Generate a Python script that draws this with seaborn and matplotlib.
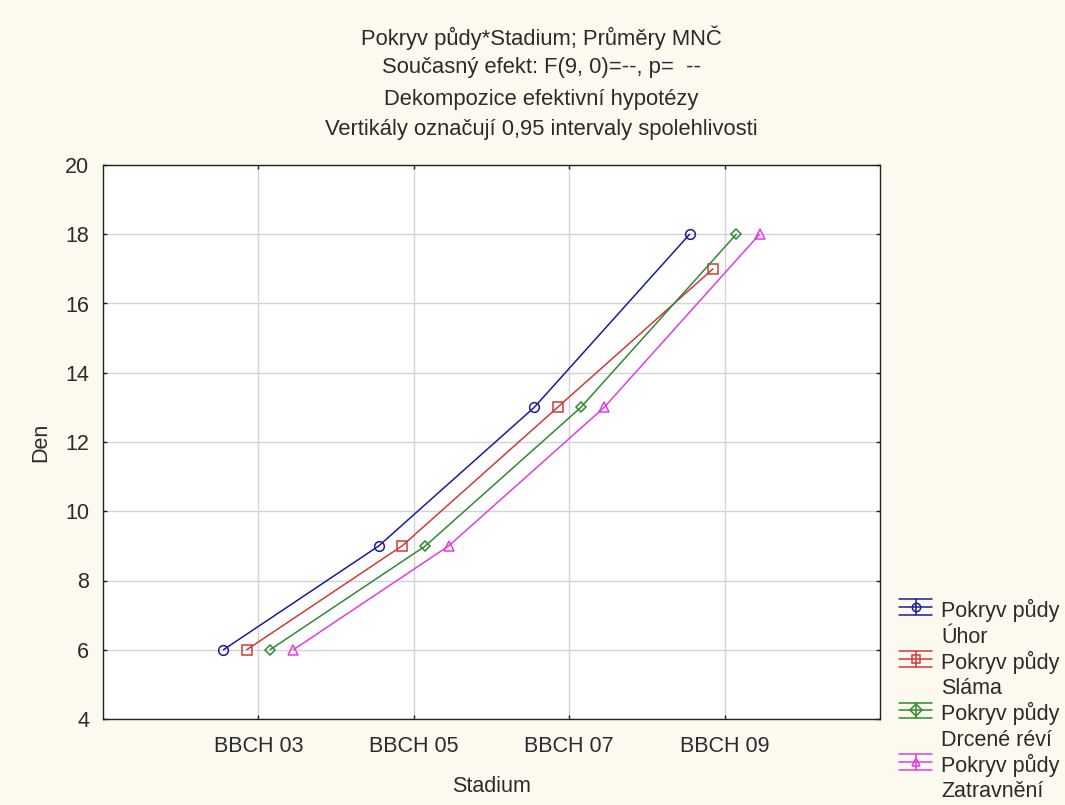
import numpy as np
import pandas as pd
import seaborn as sns
import matplotlib.pyplot as plt
from matplotlib.lines import Line2D
from matplotlib.legend_handler import HandlerBase

# values
stages = ['BBCH 03', 'BBCH 05', 'BBCH 07', 'BBCH 09']
cover = ['Úhor', 'Sláma', 'Drcené réví', 'Zatravnění']
den_uhor = [6, 9, 13, 18]
den_slama = [6, 9, 13, 17]
den_drcene = [6, 9, 13, 18]
den_zatrav = [6, 9, 13, 18]
y_ticks = [4, 6, 8, 10, 12, 14, 16, 18, 20]

colors = ['#1c1c9c', '#d03a3a', '#2f8a2f', '#e03ee0']
markers = ['o', 's', 'D', '^']
msizes = [7.0, 7.0, 5.5, 7.0]

rows = []
for name, vals in zip(cover, [den_uhor, den_slama, den_drcene, den_zatrav]):
    for st, v in zip(stages, vals):
        rows.append({'Stadium': st, 'Den': v, 'Pokryv': name})
df = pd.DataFrame(rows)

sns.set_style('ticks')
plt.rcParams['font.family'] = ['Liberation Sans', 'DejaVu Sans']
bg = '#fcf9ee'
txt = '#2b2b2b'

fig = plt.figure(figsize=(10.65, 8.05), dpi=100, facecolor=bg)
W, H = 1065, 805
ax = fig.add_axes([103 / W, 1 - 719 / H, (880 - 103) / W, (719 - 165) / H])
ax.set_facecolor('white')

sns.pointplot(data=df, x='Stadium', y='Den', hue='Pokryv', order=stages,
              hue_order=cover, palette=colors, markers=markers,
              linestyles='-', errorbar=None, dodge=0.45, legend=False,
              linewidth=1.1, markersize=7, markeredgewidth=1.1,
              markerfacecolor='none', ax=ax)
for line, ms in zip(ax.lines, msizes):
    line.set_markersize(ms)

ax.set_xlim(-1, 4)
ax.set_ylim(4, 20)
ax.set_yticks(y_ticks)
ax.grid(True, color='#d4d4d4', linewidth=1.0)
ax.set_axisbelow(True)
for s in ax.spines.values():
    s.set_visible(True)
    s.set_color('#222222')
    s.set_linewidth(1.0)
ax.tick_params(direction='in', length=3, width=1, colors='#222222',
               top=True, right=True, labelsize=15.5, labelcolor=txt)
ax.tick_params(axis='x', pad=12)
ax.tick_params(axis='y', pad=10)
ax.set_xlabel('Stadium', fontsize=15.5, color=txt, labelpad=14)
ax.set_ylabel('Den', fontsize=15.5, color=txt, labelpad=10)

title_lines = ['Pokryv půdy*Stadium; Průměry MNČ',
               'Současný efekt: F(9, 0)=--, p=  --',
               'Dekompozice efektivní hypotézy',
               'Vertikály označují 0,95 intervaly spolehlivosti']
title_y = [38, 68, 99, 129]
for t, yy in zip(title_lines, title_y):
    fig.text(541 / W, 1 - yy / H, t, ha='center', va='center',
             fontsize=15.8, color=txt)


class ErrHandler(HandlerBase):
    def create_artists(self, legend, orig, xdescent, ydescent, width, height,
                       fontsize, trans):
        c = orig.get_color()
        m = orig.get_marker()
        yc = height / 2 - ydescent + 12.0
        d = 5.6
        arts = []
        for yy in (yc - d, yc, yc + d):
            arts.append(Line2D([0, width], [yy, yy], color=c, lw=1.1))
        arts.append(Line2D([width / 2, width / 2], [yc - d, yc + d], color=c, lw=1.1))
        arts.append(Line2D([width / 2], [yc], marker=m, color=c, ms=6,
                           mfc='none', mew=1.1, linestyle='none'))
        for a in arts:
            a.set_transform(trans)
        return arts


handles = [Line2D([], [], color=c, marker=m) for c, m in zip(colors, markers)]
labels = ['Pokryv půdy\n' + n for n in cover]
leg = fig.legend(handles, labels, loc='upper left',
                 bbox_to_anchor=(899 / W, 1 - 599 / H), frameon=False,
                 fontsize=15.5, handlelength=1.55, handletextpad=0.42,
                 labelspacing=0.12, borderaxespad=0, borderpad=0,
                 handler_map={Line2D: ErrHandler()})
for t in leg.get_texts():
    t.set_color(txt)
    t.set_linespacing(1.3)

fig.savefig('out.png', dpi=100, facecolor=bg)
